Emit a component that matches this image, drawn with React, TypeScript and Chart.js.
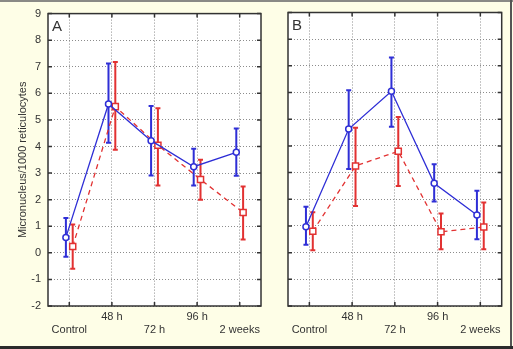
import { useEffect, useRef } from "react";
import { Chart, registerables } from "chart.js";

Chart.register(...registerables);

// Sampling times along the x axis
const categories = ["Control", "48 h", "72 h", "96 h", "2 weeks"];
const yTicks = [-2, -1, 0, 1, 2, 3, 4, 5, 6, 7, 8, 9];

// Panel A — micronucleus frequency (mean, lower and upper error limits)
const aBlueMean = [0.58, 5.6, 4.22, 3.24, 3.78];
const aBlueLow = [-0.15, 4.14, 2.91, 2.53, 2.9];
const aBlueHigh = [1.31, 7.12, 5.52, 3.92, 4.68];
const aRedMean = [0.24, 5.5, 4.05, 2.76, 1.52];
const aRedLow = [-0.6, 3.88, 2.53, 2.0, 0.5];
const aRedHigh = [1.07, 7.18, 5.44, 3.5, 2.5];

// Panel B
const bBlueMean = [0.97, 4.63, 6.05, 2.6, 1.41];
const bBlueLow = [0.3, 3.13, 4.72, 1.92, 0.5];
const bBlueHigh = [1.72, 6.09, 7.31, 3.31, 2.32];
const bRedMean = [0.8, 3.25, 3.8, 0.78, 0.96];
const bRedLow = [0.09, 1.75, 2.5, 0.13, 0.13];
const bRedHigh = [1.51, 4.68, 5.08, 1.47, 1.88];

const BLUE = "#2f2fd6";
const RED = "#e23232";
const FONT = "'Liberation Sans', Arial, sans-serif";
const SHIFT = 0.08;

type Series = { mean: number[]; low: number[]; high: number[] };

type PanelProps = {
  letter: string;
  blue: Series;
  red: Series;
  left: number;
  width: number;
  showYLabels: boolean;
};

function Panel({ letter, blue, red, left, width, showYLabels }: PanelProps) {
  const ref = useRef<HTMLCanvasElement | null>(null);

  useEffect(() => {
    if (!ref.current) return;
    const series = [blue, red];

    const decor = {
      id: "decor",
      beforeDraw(chart: any) {
        const { ctx, chartArea: a } = chart;
        ctx.save();
        ctx.fillStyle = "#ffffff";
        ctx.fillRect(a.left, a.top, a.right - a.left, a.bottom - a.top);
        ctx.restore();
      },
      beforeDatasetsDraw(chart: any) {
        const { ctx } = chart;
        const ys = chart.scales.y;
        ctx.save();
        series.forEach((s, di) => {
          const meta = chart.getDatasetMeta(di);
          ctx.strokeStyle = di === 0 ? BLUE : RED;
          ctx.lineWidth = 2;
          ctx.setLineDash([]);
          meta.data.forEach((pt: any, i: number) => {
            const x = pt.x;
            const y1 = ys.getPixelForValue(s.low[i]);
            const y2 = ys.getPixelForValue(s.high[i]);
            ctx.beginPath();
            ctx.moveTo(x, y1);
            ctx.lineTo(x, y2);
            ctx.moveTo(x - 2.5, y1);
            ctx.lineTo(x + 2.5, y1);
            ctx.moveTo(x - 2.5, y2);
            ctx.lineTo(x + 2.5, y2);
            ctx.stroke();
          });
        });
        ctx.restore();
      },
      afterDraw(chart: any) {
        const { ctx, chartArea: a } = chart;
        const xs = chart.scales.x;
        const ys = chart.scales.y;
        ctx.save();
        ctx.strokeStyle = "#333333";
        ctx.lineWidth = 1.5;
        ctx.setLineDash([]);
        ctx.strokeRect(a.left, a.top, a.right - a.left, a.bottom - a.top);
        ctx.beginPath();
        const tl = 4;
        yTicks.forEach((v) => {
          const y = ys.getPixelForValue(v);
          ctx.moveTo(a.left, y);
          ctx.lineTo(a.left + tl, y);
          ctx.moveTo(a.right, y);
          ctx.lineTo(a.right - tl, y);
        });
        categories.forEach((_, i) => {
          const x = xs.getPixelForValue(i);
          ctx.moveTo(x, a.top);
          ctx.lineTo(x, a.top + tl);
          ctx.moveTo(x, a.bottom);
          ctx.lineTo(x, a.bottom - tl);
        });
        ctx.stroke();
        ctx.fillStyle = "#333333";
        ctx.font = `15px ${FONT}`;
        ctx.textBaseline = "top";
        ctx.textAlign = "left";
        ctx.fillText(letter, a.left + 4, a.top + 6);
        ctx.restore();
      },
    };

    const chart = new Chart(ref.current, {
      type: "line",
      data: {
        datasets: [
          {
            data: blue.mean.map((v, i) => ({ x: i - SHIFT, y: v })),
            borderColor: BLUE,
            borderWidth: 1.3,
            pointStyle: "circle",
            pointRadius: 3,
            pointBorderWidth: 1.5,
            pointBackgroundColor: "#ffffff",
            pointBorderColor: BLUE,
          },
          {
            data: red.mean.map((v, i) => ({ x: i + SHIFT, y: v })),
            borderColor: RED,
            borderWidth: 1.3,
            borderDash: [5, 4],
            pointStyle: "rect",
            pointRadius: 4.3,
            pointBorderWidth: 1.5,
            pointBackgroundColor: "#ffffff",
            pointBorderColor: RED,
          },
        ],
      },
      options: {
        animation: false,
        responsive: false,
        layout: {
          padding: {
            top: 12.5,
            right: showYLabels ? 14 : 11.3,
            bottom: 0,
            left: showYLabels ? 0 : 8,
          },
        },
        plugins: { legend: { display: false }, tooltip: { enabled: false } },
        scales: {
          x: {
            type: "linear",
            min: -0.5,
            max: 4.5,
            afterBuildTicks: (s: any) => {
              s.ticks = categories.map((_, i) => ({ value: i }));
            },
            afterFit: (s: any) => {
              s.height = 43;
            },
            grid: { color: "#8c8c8c", lineWidth: 1, drawTicks: false },
            border: { display: false, dash: [1, 2] },
            ticks: {
              autoSkip: false,
              maxRotation: 0,
              padding: 4,
              color: "#333333",
              font: { family: FONT, size: 11 },
              callback: (v: any) => {
                const i = Math.round(Number(v));
                const c = categories[i] ?? "";
                return i % 2 === 1 ? [c, ""] : ["", c];
              },
            },
          },
          y: {
            min: -2,
            max: 9,
            afterFit: (s: any) => {
              s.width = showYLabels ? 48 : 0;
            },
            grid: { color: "#8c8c8c", lineWidth: 1, drawTicks: false },
            border: { display: false, dash: [1, 2] },
            ticks: {
              display: showYLabels,
              stepSize: 1,
              padding: 7,
              color: "#333333",
              font: { family: FONT, size: 11 },
            },
            title: {
              display: showYLabels,
              text: "Micronucleus/1000 reticulocytes",
              color: "#333333",
              font: { family: FONT, size: 11 },
              padding: { top: 16, bottom: 0 },
            },
          },
        },
      },
      plugins: [decor],
    } as any);
    return () => chart.destroy();
  }, []);

  return (
    <canvas
      ref={ref}
      width={width}
      height={349}
      style={{ position: "absolute", left, top: 0, width, height: 349 }}
    />
  );
}

export default function App() {
  return (
    <div
      style={{
        position: "fixed",
        left: 0,
        top: 0,
        width: 513,
        height: 349,
        background: "#fefee7",
        overflow: "hidden",
      }}
    >
      <Panel
        letter="A"
        blue={{ mean: aBlueMean, low: aBlueLow, high: aBlueHigh }}
        red={{ mean: aRedMean, low: aRedLow, high: aRedHigh }}
        left={0}
        width={275}
        showYLabels={true}
      />
      <Panel
        letter="B"
        blue={{ mean: bBlueMean, low: bBlueLow, high: bBlueHigh }}
        red={{ mean: bRedMean, low: bRedLow, high: bRedHigh }}
        left={280}
        width={233}
        showYLabels={false}
      />
      <div style={{ position: "absolute", left: 0, top: 0, width: 513, height: 2, background: "#8a8a86" }} />
      <div style={{ position: "absolute", left: 510, top: 0, width: 2, height: 349, background: "#555555" }} />
      <div style={{ position: "absolute", left: 0, top: 346, width: 513, height: 3, background: "#2b2b2b" }} />
    </div>
  );
}
